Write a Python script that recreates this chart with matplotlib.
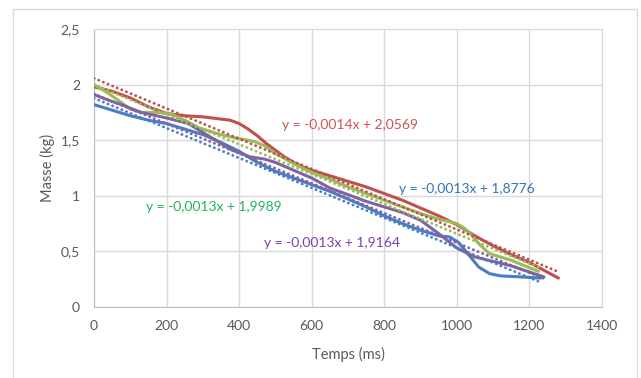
#!/usr/bin/env python
# -*- coding: utf-8 -*-

'''
Masse en fonction du temps, 4 essais avec courbes de tendance lineaires
'''

import numpy as np
import matplotlib
matplotlib.use("Agg")
import matplotlib.pyplot as plt
from matplotlib.patches import Rectangle

# Data (temps in ms, masse in kg)
tempsBleu = [0, 50, 100, 150, 200, 250, 300, 350, 400, 450, 500, 550, 600, 650,
             700, 750, 800, 850, 900, 950, 980, 1005, 1030, 1060, 1090, 1120, 1180, 1230]
masseBleu = [1.82, 1.77, 1.72, 1.68, 1.65, 1.60, 1.55, 1.48, 1.40, 1.30, 1.22, 1.16, 1.10, 1.04,
             0.97, 0.90, 0.82, 0.75, 0.69, 0.64, 0.63, 0.58, 0.48, 0.36, 0.30, 0.28, 0.27, 0.26]

tempsRouge = [0, 50, 100, 150, 200, 250, 300, 350, 375, 400, 425, 450, 475, 500, 525, 550,
              575, 600, 650, 700, 750, 800, 850, 900, 950, 1000, 1050, 1100, 1150, 1200, 1280]
masseRouge = [1.98, 1.94, 1.88, 1.80, 1.74, 1.72, 1.71, 1.69, 1.68, 1.65, 1.60, 1.54, 1.47, 1.41,
              1.35, 1.30, 1.26, 1.23, 1.18, 1.13, 1.08, 1.02, 0.96, 0.89, 0.82, 0.74, 0.64, 0.55,
              0.47, 0.40, 0.26]

tempsVert = [0, 40, 75, 100, 130, 175, 210, 250, 290, 340, 375, 440, 470, 500, 550,
             600, 650, 700, 750, 800, 850, 900, 950, 1000, 1020, 1040, 1060, 1090, 1150, 1225]
masseVert = [2.00, 1.92, 1.84, 1.78, 1.75, 1.75, 1.74, 1.68, 1.61, 1.56, 1.53, 1.49, 1.45, 1.38, 1.29,
             1.21, 1.15, 1.08, 1.02, 0.96, 0.90, 0.84, 0.79, 0.75, 0.71, 0.65, 0.57, 0.48, 0.42, 0.32]

tempsViolet = [0, 40, 75, 130, 200, 260, 320, 375, 430, 470, 500, 550, 600, 650,
               700, 750, 800, 850, 900, 950, 1000, 1050, 1100, 1150, 1240]
masseViolet = [1.91, 1.86, 1.82, 1.75, 1.70, 1.65, 1.53, 1.42, 1.35, 1.33, 1.30, 1.23, 1.16, 1.07,
               1.01, 0.95, 0.90, 0.85, 0.78, 0.66, 0.53, 0.45, 0.41, 0.37, 0.27]

# Trendlines (slope, intercept) as drawn
penteTendance = [-0.001345, -0.00136, -0.00134, -0.00134]
origineTendance = [1.8776, 2.0569, 1.9989, 1.9164]
equations = ["y = -0,0013x + 1,8776", "y = -0,0014x + 2,0569",
             "y = -0,0013x + 1,9989", "y = -0,0013x + 1,9164"]

xTicks = [0, 200, 400, 600, 800, 1000, 1200, 1400]
yTicks = [0, 0.5, 1, 1.5, 2, 2.5]
yTickLabels = ["0", "0,5", "1", "1,5", "2", "2,5"]


def main():
    plt.rcParams['font.family'] = ['Lato', 'DejaVu Sans']

    couleurs = ["#4A7EC4", "#C0504D", "#9BBB59", "#8064A2"]
    couleursTexte = ["#2E75B6", "#CB5450", "#1DB45A", "#7B3FAE"]
    posTexte = [(399, 189), (282, 125), (146, 207), (264, 243)]  # pixels (left, center)
    series = [(tempsBleu, masseBleu), (tempsRouge, masseRouge),
              (tempsVert, masseVert), (tempsViolet, masseViolet)]

    W, H = 641, 378
    fig = plt.figure(figsize=(W / 100, H / 100), dpi=100)
    fig.patches.append(Rectangle((13 / W, -0.02), (637 - 13) / W, 1.02 - 9 / H,
                                 transform=fig.transFigure, fill=False,
                                 edgecolor="#D9D9D9", linewidth=1))

    ax = fig.add_axes([94 / W, 1 - 307 / H, (602 - 94) / W, (307 - 29) / H])
    ax.set_xlim(0, 1400)
    ax.set_ylim(0, 2.5)
    ax.set_xticks(xTicks)
    ax.set_yticks(yTicks)
    ax.set_yticklabels(yTickLabels)
    ax.tick_params(length=0, labelsize=10, labelcolor="#595959")
    ax.tick_params(axis='y', pad=10)
    ax.tick_params(axis='x', pad=9)
    ax.grid(color="#D9D9D9", linewidth=1)
    ax.set_axisbelow(True)
    for side in ['top', 'right', 'left', 'bottom']:
        ax.spines[side].set_color("#D9D9D9")
    ax.spines['left'].set_color("#BFBFBF")
    ax.spines['bottom'].set_color("#BFBFBF")

    for (t, m), c in zip(series, couleurs):
        ax.plot(t, m, color=c, linewidth=2.2, solid_joinstyle='round',
                solid_capstyle='round', zorder=3)

    for (t, m), c, a, b in zip(series, couleurs, penteTendance, origineTendance):
        tt = np.array([min(t), max(t)])
        ax.plot(tt, a * tt + b, color=c, linewidth=2.0, linestyle=(0, (0.1, 1.7)),
                dash_capstyle='round', zorder=4)

    for eq, c, (px, py) in zip(equations, couleursTexte, posTexte):
        fig.text(px / W, 1 - py / H, eq, color=c, fontsize=10, ha='left', va='center')

    ax.set_xlabel("Temps (ms)", fontsize=10.5, color="#595959", labelpad=11)
    ax.set_ylabel("Masse (kg)", fontsize=10.5, color="#595959", labelpad=4)

    fig.savefig("out.png", dpi=100)


if (__name__ == "__main__"):
    main()
